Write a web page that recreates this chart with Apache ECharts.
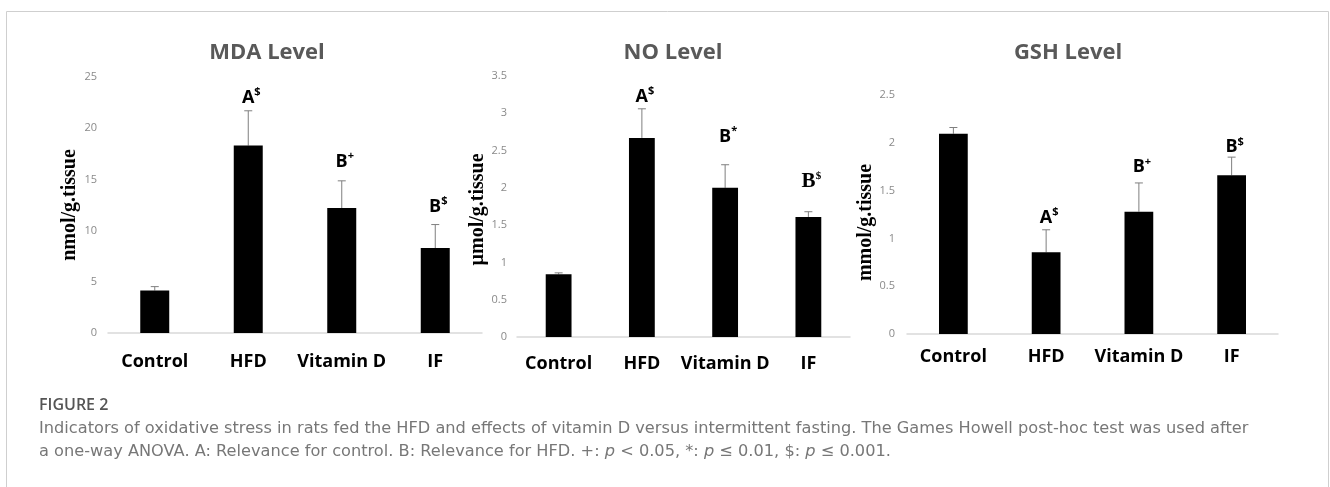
<!DOCTYPE html>
<html>
<head>
<meta charset="utf-8">
<script src="https://cdn.jsdelivr.net/npm/echarts@6/dist/echarts.min.js"></script>
<style>
html,body{margin:0;padding:0;background:#fff;}
#chart{width:1330px;height:487px;}
</style>
</head>
<body>
<div id="chart"></div>
<script>
// ---------------- DATA ----------------
const categories = ['Control', 'HFD', 'Vitamin D', 'IF'];

const mdaTitle = 'MDA Level';
const mdaUnit = 'nmol/g.tissue';
const mdaMean = [4.15, 18.3, 12.2, 8.3];
const mdaSD = [0.38, 3.4, 2.66, 2.29];
const mdaLetter = ['', 'A', 'B', 'B'];
const mdaSig = ['', '$', '+', '$'];
const mdaMax = 25, mdaStep = 5;

const noTitle = 'NO Level';
const noUnit = 'µmol/g.tissue';
const noMean = [0.84, 2.67, 2.0, 1.61];
const noSD = [0.02, 0.39, 0.31, 0.07];
const noLetter = ['', 'A', 'B', 'B'];
const noSig = ['', '$', '*', '$'];
const noMax = 3.5, noStep = 0.5;

const gshTitle = 'GSH Level';
const gshUnit = 'mmol/g.tissue';
const gshMean = [2.095, 0.855, 1.28, 1.66];
const gshSD = [0.065, 0.235, 0.30, 0.19];
const gshLetter = ['', 'A', 'B', 'B'];
const gshSig = ['', '$', '+', '$'];
const gshMax = 2.5, gshStep = 0.5;

const figLabel = 'FIGURE 2';
const captionLine1 = 'Indicators of oxidative stress in rats fed the HFD and effects of vitamin D versus intermittent fasting. The Games Howell post-hoc test was used after';
const captionLine2 = [['a one-way ANOVA. A: Relevance for control. B: Relevance for HFD. +: ', 'n'], ['p', 'i'], [' < 0.05, *: ', 'n'], ['p', 'i'], [' ≤ 0.01, $: ', 'n'], ['p', 'i'], [' ≤ 0.001.', 'n']];

// ---------------- STYLE / LAYOUT ----------------
const SANS = '"Open Sans", "Noto Sans", sans-serif';
const SERIF = '"Liberation Serif", "DejaVu Serif", serif';
const CAP = '"DejaVu Sans", "Open Sans", sans-serif';
const panels = [
  {title: mdaTitle, unit: mdaUnit, mean: mdaMean, sd: mdaSD, letter: mdaLetter, sig: mdaSig, max: mdaMax, step: mdaStep,
   grid: {left: 108, top: 77, width: 374, height: 256}, titleX: 267, nameGap: 28, namePad: [0, 0, 0, 0], labelMargin: 11, xMargin: 20,
   markGap: [0, 13, 19, 18], serifMarks: [false, false, false, false]},
  {title: noTitle, unit: noUnit, mean: noMean, sd: noSD, letter: noLetter, sig: noSig, max: noMax, step: noStep,
   grid: {left: 517, top: 76, width: 333, height: 261}, titleX: 673, nameGap: 21, namePad: [0, 6, 0, 0], labelMargin: 10, xMargin: 18,
   markGap: [0, 12, 28, 30], serifMarks: [false, false, false, true]},
  {title: gshTitle, unit: gshUnit, mean: gshMean, sd: gshSD, letter: gshLetter, sig: gshSig, max: gshMax, step: gshStep,
   grid: {left: 907, top: 95, width: 371, height: 239}, titleX: 1068, nameGap: 29, namePad: [0, 16, 0, 0], labelMargin: 12, xMargin: 14,
   markGap: [0, 12, 16, 10], serifMarks: [false, false, false, false]}
];

const chart = echarts.init(document.getElementById('chart'), null, {renderer: 'canvas'});

const grids = [], xAxes = [], yAxes = [], series = [], graphics = [];

panels.forEach((p, k) => {
  grids.push(Object.assign({containLabel: false}, p.grid));
  xAxes.push({
    type: 'category', gridIndex: k, data: categories,
    axisLine: {lineStyle: {color: '#d9d9d9', width: 1.5}},
    axisTick: {show: false},
    axisLabel: {color: '#000', fontFamily: SANS, fontWeight: 'bold', fontSize: 18, margin: p.xMargin, interval: 0}
  });
  yAxes.push({
    type: 'value', gridIndex: k, min: 0, max: p.max, interval: p.step,
    splitLine: {show: false}, axisLine: {show: false}, axisTick: {show: false},
    axisLabel: {color: '#8a8a8a', fontFamily: SANS, fontSize: 11, margin: p.labelMargin},
    name: p.unit, nameLocation: 'middle', nameRotate: 90, nameGap: p.nameGap,
    nameTextStyle: {fontFamily: SERIF, fontWeight: 'bold', fontSize: 20, color: '#000', padding: p.namePad}
  });
  series.push({
    type: 'bar', xAxisIndex: k, yAxisIndex: k, data: p.mean, barWidth: '31%',
    itemStyle: {color: '#000'}, silent: true, animation: false
  });
  series.push({
    type: 'custom', xAxisIndex: k, yAxisIndex: k, animation: false, silent: true, clip: false,
    data: p.mean.map((m, i) => [i, m, p.sd[i]]),
    encode: {x: 0, y: 1},
    renderItem: function (params, api) {
      const i = api.value(0), m = api.value(1), s = api.value(2);
      const b = api.coord([i, m]);
      const t = api.coord([i, m + s]);
      const children = [
        {type: 'line', shape: {x1: t[0], y1: b[1], x2: t[0], y2: t[1]}, style: {stroke: '#7f7f7f', lineWidth: 1}},
        {type: 'line', shape: {x1: t[0] - 4, y1: t[1], x2: t[0] + 4, y2: t[1]}, style: {stroke: '#7f7f7f', lineWidth: 1}}
      ];
      if (p.letter[i]) {
        const serif = p.serifMarks[i];
        const fam = serif ? SERIF : SANS;
        children.push({
          type: 'text',
          style: {
            text: '{a|' + p.letter[i] + '}{s|' + p.sig[i] + '}',
            x: t[0] + 3, y: t[1] - p.markGap[i], align: 'center', verticalAlign: 'middle',
            rich: {
              a: {fontFamily: fam, fontWeight: 'bold', fontSize: serif ? 21 : 18, lineHeight: 22, fill: '#000', color: '#000'},
              s: {fontFamily: fam, fontWeight: 'bold', fontSize: 11, lineHeight: 22, verticalAlign: 'top', fill: '#000', color: '#000'}
            }
          }
        });
      }
      return {type: 'group', children: children};
    }
  });
  graphics.push({
    type: 'text', x: p.titleX, y: 53,
    style: {text: p.title, fontFamily: SANS, fontWeight: 'bold', fontSize: 22, fill: '#595959', align: 'center', verticalAlign: 'middle'}
  });
});

// Figure frame
graphics.push({type: 'rect', shape: {x: 6.5, y: 11.5, width: 1322, height: 500}, style: {fill: 'none', stroke: '#cfcfcf', lineWidth: 1}, z: -1});
// Caption
graphics.push({type: 'text', x: 39, y: 405, style: {text: figLabel, fontFamily: SANS, fontWeight: 600, fontSize: 16, fill: '#555', verticalAlign: 'middle'}});
graphics.push({type: 'text', x: 39, y: 429, style: {text: captionLine1, fontFamily: CAP, fontSize: 16.2, fill: '#777', verticalAlign: 'middle'}});
graphics.push({type: 'text', x: 39, y: 452, style: {
  text: captionLine2.map(s => '{' + s[1] + '|' + s[0] + '}').join(''),
  verticalAlign: 'middle',
  rich: {
    n: {fontFamily: CAP, fontSize: 16.2, fill: '#777', color: '#777'},
    i: {fontFamily: CAP, fontSize: 16.2, fontStyle: 'italic', fill: '#777', color: '#777'}
  }
}});

chart.setOption({
  animation: false,
  backgroundColor: '#fff',
  grid: grids, xAxis: xAxes, yAxis: yAxes, series: series, graphic: graphics
});
</script>
</body>
</html>
